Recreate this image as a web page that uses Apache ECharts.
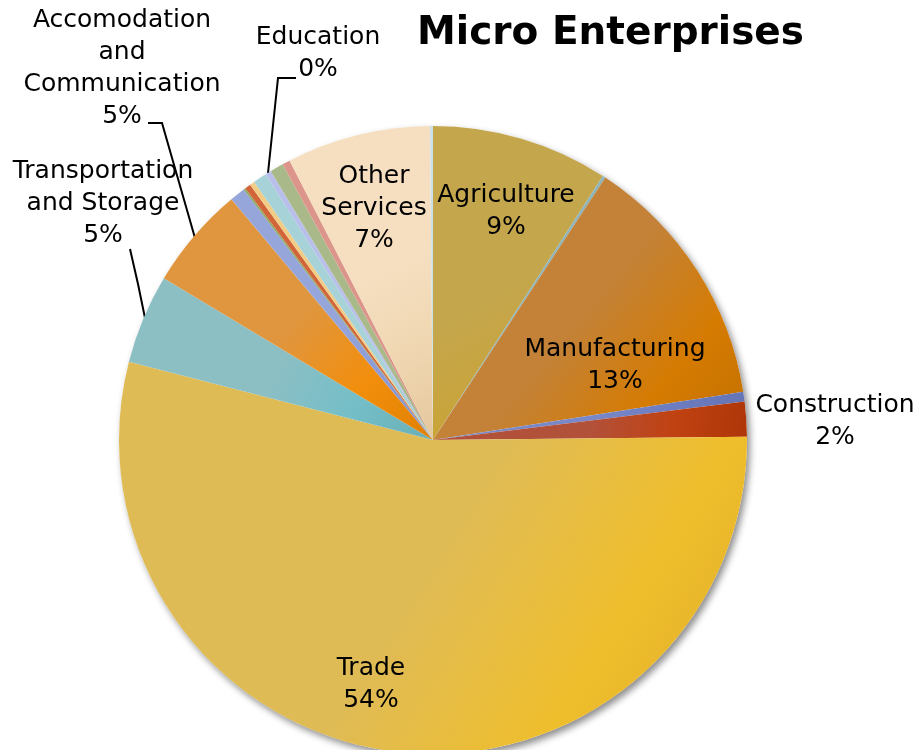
<!DOCTYPE html>
<html>
<head>
<meta charset="utf-8">
<title>Micro Enterprises</title>
<script src="https://cdn.jsdelivr.net/npm/echarts@6/dist/echarts.min.js"></script>
<style>
  html, body { margin: 0; padding: 0; background: #ffffff; }
  #chart { width: 919px; height: 750px; }
</style>
</head>
<body>
<div id="chart"></div>
<script>
// Sectors in clockwise order from 12 o'clock, with their share of micro enterprises (%)
const categories = [
  'Agriculture',
  'Mining and Quarrying',
  'Manufacturing',
  'Electricity, Gas and Water',
  'Construction',
  'Trade',
  'Transportation\nand Storage',
  'Accomodation\nand\nCommunication',
  'Financial Services',
  'Real Estate',
  'Business Services',
  'Public Administration',
  'Health Services',
  'Education',
  'Social Services',
  'Recreation',
  'Other\nServices',
  'Households'
];
const shares = [9.1, 0.15, 13.3, 0.5, 1.8, 54.2, 4.6, 5.3, 0.8, 0.1, 0.3, 0.25, 0.7, 0.3, 0.7, 0.4, 7.4, 0.15];

// Sectors whose name and share are printed
const labelledSectors = [
  'Agriculture', 'Manufacturing', 'Construction', 'Trade',
  'Transportation\nand Storage', 'Accomodation\nand\nCommunication', 'Education', 'Other\nServices'
];

// Slice fills: [soft, vivid, deep] stops of a diagonal gradient
const sliceColors = [
  ['#c4a64c', '#c9a43a', '#c6a030'],
  ['#8bb4bc', '#7aaeb8', '#72a6b0'],
  ['#c38238', '#d57b02', '#c27000'],
  ['#7888c8', '#6c7cc0', '#6474b4'],
  ['#b2513a', '#c04212', '#ae3608'],
  ['#dfbb56', '#efbe2c', '#deab28'],
  ['#8cbfc4', '#74bec8', '#6aaeb4'],
  ['#e0963e', '#f28e0c', '#e08000'],
  ['#97a6da', '#8c9ad6', '#8090cc'],
  ['#8fa860', '#8fa860', '#86a058'],
  ['#d2643a', '#d2643a', '#c85a30'],
  ['#f2cc84', '#f2cc84', '#eac27a'],
  ['#a6d2d8', '#a6d2d8', '#9cc8ce'],
  ['#b8bfea', '#b8bfea', '#aeb5e0'],
  ['#a9b98a', '#a9b98a', '#a0b080'],
  ['#dc958a', '#dc958a', '#d28b80'],
  ['#f5dfc0', '#efd6b0', '#e4c69c'],
  ['#cde0ea', '#cde0ea', '#c4d8e2']
];

// Where each printed label sits, and the leader line for the ones outside the pie
const labelSpots = {
  'Agriculture': { at: [506, 211] },
  'Manufacturing': { at: [615, 365] },
  'Construction': { at: [835, 421] },
  'Trade': { at: [371, 684] },
  'Other\nServices': { at: [374, 208] },
  'Transportation\nand Storage': { at: [103, 203], line: [[145, 318], [138, 284], [130, 249]] },
  'Accomodation\nand\nCommunication': { at: [122, 68], line: [[195, 238], [162, 123], [148, 123]] },
  'Education': { at: [318, 53], line: [[268, 173], [278, 78], [296, 78]] }
};

const pieCenter = [433, 440];
const pieRadius = 314;
const total = shares.reduce((a, b) => a + b, 0);

function sliceFill(c) {
  return new echarts.graphic.LinearGradient(0, 0, 1, 1, [
    { offset: 0, color: c[0] },
    { offset: 0.5, color: c[0] },
    { offset: 0.76, color: c[1] },
    { offset: 1, color: c[2] }
  ]);
}

const sliceData = categories.map((name, i) => {
  const shown = labelledSectors.indexOf(name) >= 0;
  const spot = labelSpots[name];
  const outside = !!(spot && spot.line);
  return {
    name: name,
    value: shares[i],
    itemStyle: { color: sliceFill(sliceColors[i]) },
    label: { show: shown, position: outside ? 'outside' : 'inside' },
    labelLine: { show: outside }
  };
});

const chart = echarts.init(document.getElementById('chart'), null, { renderer: 'canvas' });

chart.setOption({
  backgroundColor: '#ffffff',
  animation: false,
  title: {
    text: 'Micro Enterprises',
    left: 412,
    top: 9,
    textStyle: {
      fontFamily: 'DejaVu Sans',
      fontWeight: 'bold',
      fontSize: 39,
      color: '#000000'
    }
  },
  series: [
    {
      // soft drop shadow under the whole disc
      type: 'pie',
      silent: true,
      z: 1,
      center: pieCenter,
      radius: pieRadius,
      label: { show: false },
      labelLine: { show: false },
      itemStyle: {
        color: '#ffffff',
        shadowColor: 'rgba(0,0,0,0.45)',
        shadowBlur: 7,
        shadowOffsetX: 3,
        shadowOffsetY: 4
      },
      data: [{ name: 'all', value: total }]
    },
    {
      type: 'pie',
      z: 2,
      center: pieCenter,
      radius: pieRadius,
      startAngle: 90,
      clockwise: true,
      avoidLabelOverlap: false,
      itemStyle: { borderWidth: 0 },
      emphasis: { disabled: true },
      label: {
        fontFamily: 'DejaVu Sans',
        fontSize: 25,
        lineHeight: 32,
        color: '#000000',
        align: 'center',
        formatter: p => p.name + '\n' + Math.round(p.percent) + '%'
      },
      labelLine: {
        lineStyle: { color: '#000000', width: 2 }
      },
      labelLayout: function (p) {
        const spot = labelSpots[categories[p.dataIndex]];
        if (!spot) return {};
        const out = { x: spot.at[0], y: spot.at[1], align: 'center', verticalAlign: 'middle' };
        if (spot.line) out.labelLinePoints = spot.line;
        return out;
      },
      data: sliceData
    }
  ]
});
</script>
</body>
</html>
